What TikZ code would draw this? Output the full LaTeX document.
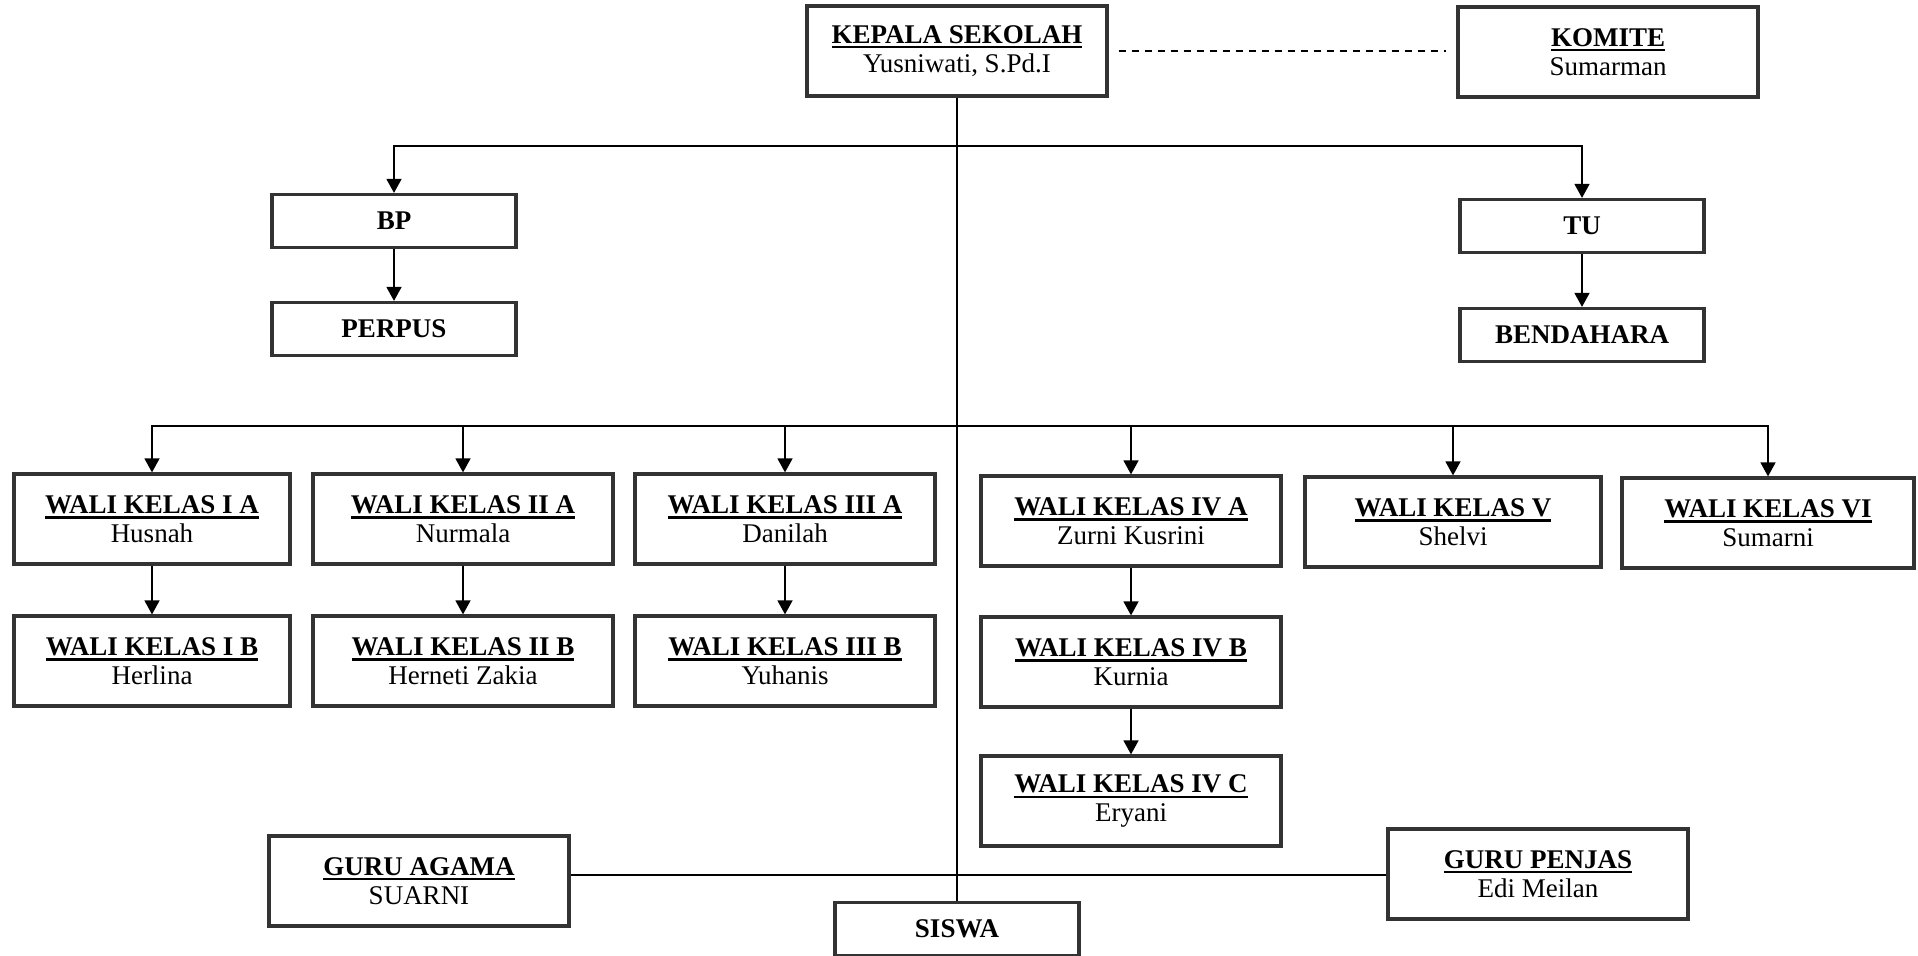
\documentclass[tikz,border=0pt]{standalone}
\usepackage{fontspec}
\setmainfont{Liberation Serif}
\usetikzlibrary{arrows.meta}
\newcommand{\ulb}[1]{\begingroup\setbox0\hbox{\textbf{#1}}\vtop{\copy0\kern1.3pt\hrule height 1.1pt width \wd0}\endgroup}
\begin{document}
\begin{tikzpicture}[x=0.5pt,y=-0.5pt,
  bx/.style={draw=black!80, line width=1.6pt, align=center, inner sep=0pt,
     font=\fontsize{13.5}{14.5}\selectfont},
  wide/.style={bx, minimum width=150pt, minimum height=45pt},
  small/.style={bx, minimum width=122pt, minimum height=26.5pt},
  ln/.style={line width=0.75pt, black},
  arr/.style={ln, -{Triangle[width=7.5pt,length=7pt]}}]
\useasboundingbox (0,0) rectangle (1918,956);

% top
\node[wide] (kepala) at (957,51) {\ulb{KEPALA SEKOLAH}\\Yusniwati, S.Pd.I};
\node[wide] (komite) at (1608,52) {\ulb{KOMITE}\\Sumarman};
\node[small] (bp) at (394,221) {\textbf{BP}};
\node[small] (perpus) at (394,329) {\textbf{PERPUS}};
\node[small] (tu) at (1582,226) {\textbf{TU}};
\node[small] (bend) at (1582,335) {\textbf{BENDAHARA}};

% row 1
\node[wide, minimum width=138pt] (ia) at (152,519) {\ulb{WALI KELAS I A}\\Husnah};
\node[wide] (iia) at (463,519) {\ulb{WALI KELAS II A}\\Nurmala};
\node[wide] (iiia) at (785,519) {\ulb{WALI KELAS III A}\\Danilah};
\node[wide] (iva) at (1131,521) {\ulb{WALI KELAS IV A}\\Zurni Kusrini};
\node[wide, minimum width=148pt] (v) at (1453,522) {\ulb{WALI KELAS V}\\Shelvi};
\node[wide, minimum width=146pt] (vi) at (1768,523) {\ulb{WALI KELAS VI}\\Sumarni};

% row 2
\node[wide, minimum width=138pt] (ib) at (152,661) {\ulb{WALI KELAS I B}\\Herlina};
\node[wide] (iib) at (463,661) {\ulb{WALI KELAS II B}\\Herneti Zakia};
\node[wide] (iiib) at (785,661) {\ulb{WALI KELAS III B}\\Yuhanis};
\node[wide] (ivb) at (1131,662) {\ulb{WALI KELAS IV B}\\Kurnia};
\node[wide] (ivc) at (1131,801) {\ulb{WALI KELAS IV C}\\Eryani};

% bottom
\node[wide] (agama) at (419,881) {\ulb{GURU AGAMA}\\SUARNI};
\node[wide] (penjas) at (1538,874) {\ulb{GURU PENJAS}\\Edi Meilan};
\node[small] (siswa) at (957,929) {\textbf{SISWA}};

% bus points
\coordinate (b1) at (957,146);
\coordinate (b2) at (957,426);
\coordinate (b3) at (957,875);

% connectors
\draw[ln, line width=1pt, dash pattern=on 3.5pt off 3pt, shorten <=5pt, shorten >=5pt] (kepala.east) -- (komite.west |- kepala.east);
\draw[ln] (kepala.south) -- (siswa.north);
\draw[arr] (b1) -| (bp.north);
\draw[arr] (b1) -| (tu.north);
\draw[arr] (bp.south) -- (perpus.north);
\draw[arr] (tu.south) -- (bend.north);
\foreach \n in {ia,iia,iiia,iva,v,vi} \draw[arr] (b2) -| (\n.north);
\draw[arr] (ia.south) -- (ib.north);
\draw[arr] (iia.south) -- (iib.north);
\draw[arr] (iiia.south) -- (iiib.north);
\draw[arr] (iva.south) -- (ivb.north);
\draw[arr] (ivb.south) -- (ivc.north);
\draw[ln] (agama.east |- b3) -- (penjas.west |- b3);
\end{tikzpicture}
\end{document}
